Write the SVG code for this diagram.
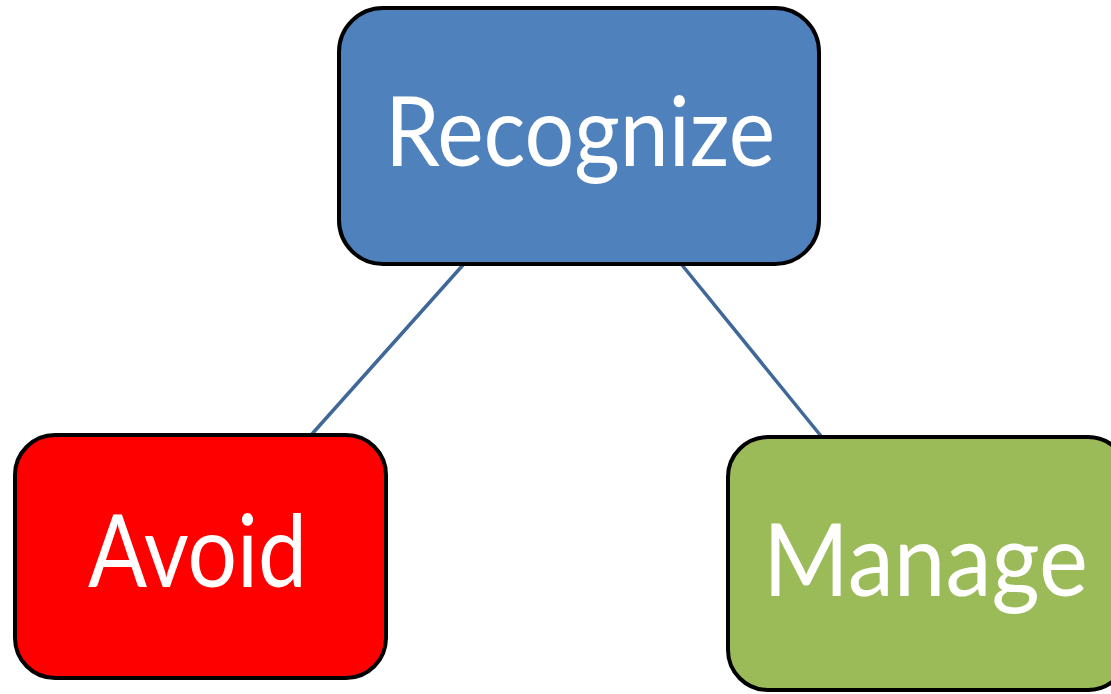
<svg xmlns="http://www.w3.org/2000/svg" width="1111" height="694" viewBox="0 0 1111 694">
  <style>
    .box { stroke: #000000; stroke-width: 4; }
    .label { font-family: Lato, "Noto Sans", "Liberation Sans", sans-serif; fill: #ffffff; font-weight: normal; }
    .link { stroke: #3f6797; stroke-width: 3.5; fill: none; }
  </style>
  <rect width="1111" height="694" fill="#ffffff"/>

  <!-- connectors -->
  <g id="connectors">
    <line class="link" x1="463" y1="265" x2="312" y2="434"/>
    <line class="link" x1="682" y1="265" x2="821" y2="436"/>
  </g>

  <g id="node-recognize">
    <rect class="box" x="339" y="8" width="480" height="256" rx="44" ry="44" fill="#4f81bd"/>
    <text class="label" x="385" y="166" font-size="97" textLength="390" lengthAdjust="spacingAndGlyphs">Recognize</text>
  </g>

  <g id="node-avoid">
    <rect class="box" x="15" y="435" width="371" height="243" rx="40" ry="40" fill="#ff0000"/>
    <text class="label" x="88" y="587" font-size="100" textLength="219" lengthAdjust="spacingAndGlyphs">Avoid</text>
  </g>

  <g id="node-manage">
    <rect class="box" x="728" y="437" width="400" height="253" rx="40" ry="40" fill="#9bbb59"/>
    <text class="label" x="763" y="596" font-size="100" textLength="325" lengthAdjust="spacingAndGlyphs">Manage</text>
  </g>
</svg>
